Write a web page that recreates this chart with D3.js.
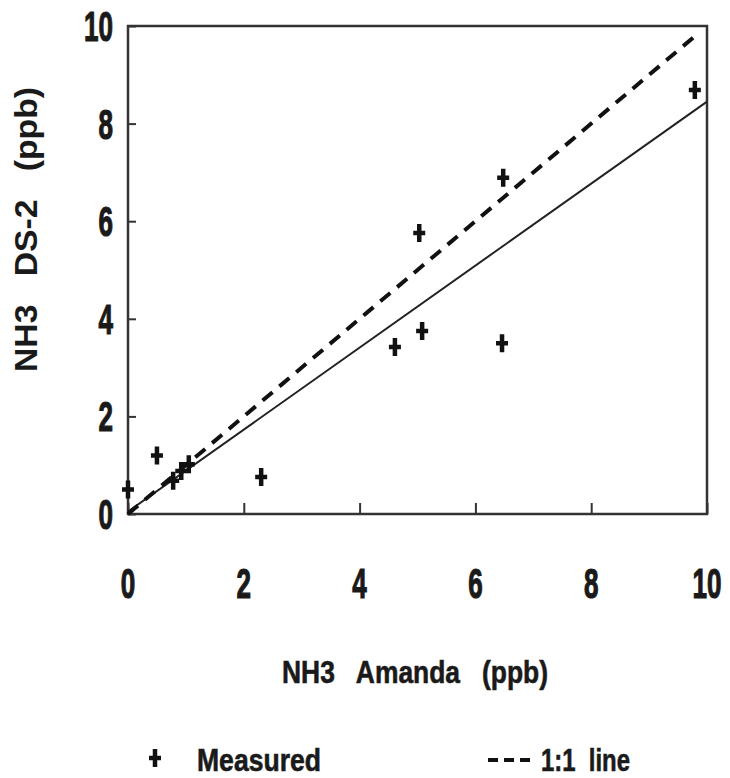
<!DOCTYPE html>
<html>
<head>
<meta charset="utf-8">
<script src="https://cdn.jsdelivr.net/npm/d3@7"></script>
<style>
body { margin: 0; background: #fff; }
svg text { fill: #1a1a1a; }
</style>
</head>
<body>
<div id="chart"></div>
<script>
var width = 730;
var height = 778;

// measured points (Amanda vs DS-2)
var amanda = [0, 0.5, 0.78, 0.92, 1.05, 2.3, 4.61, 5.08, 5.03, 6.46, 6.48, 9.79];
var ds2 = [0.5, 1.2, 0.68, 0.88, 1.02, 0.76, 3.42, 3.75, 5.76, 3.5, 6.89, 8.69];

// regression line and 1:1 line end points
var fitX = [0, 10];
var fitY = [0.05, 8.45];
var oneX = [0, 9.78];
var oneY = [0, 9.78];

var xTicks = [0, 2, 4, 6, 8, 10];
var yTicks = [0, 2, 4, 6, 8, 10];
var legendLabels = ["Measured", "1:1  line"];

var margin = {left: 128, top: 26, right: 23, bottom: 264};
var w = width - margin.left - margin.right;
var h = height - margin.top - margin.bottom;

var font = "'Liberation Sans', Arial, sans-serif";

var svg = d3.select("#chart")
    .append("svg")
    .attr("width", width)
    .attr("height", height);

var g = svg.append("g")
    .attr("transform", "translate(" + margin.left + "," + margin.top + ")");

var x = d3.scaleLinear().domain([0, 10]).range([0, w]);
var y = d3.scaleLinear().domain([0, 10]).range([h, 0]);

// frame
g.append("rect")
    .attr("width", w)
    .attr("height", h)
    .attr("fill", "none")
    .attr("stroke", "#333")
    .attr("stroke-width", 2.5);

// inward ticks on bottom and left
var xAxis = g.append("g")
    .attr("transform", "translate(0," + h + ")")
    .call(d3.axisBottom(x).tickValues(xTicks).tickSize(-11).tickFormat(""));
var yAxis = g.append("g")
    .call(d3.axisLeft(y).tickValues(yTicks).tickSize(-8).tickFormat(""));
[xAxis, yAxis].forEach(function(a){
    a.select(".domain").remove();
    a.selectAll("line").attr("stroke", "#333").attr("stroke-width", 2);
});

// tick labels, squeezed to look condensed
g.selectAll(".xlab")
    .data(xTicks)
    .enter()
    .append("text")
    .attr("transform", function(d){ return "translate(" + x(d) + "," + (h + 84) + ") scale(0.62,1)"; })
    .attr("text-anchor", "middle")
    .attr("font-family", font)
    .attr("font-weight", "bold")
    .attr("font-size", "42px")
    .attr("stroke", "#1a1a1a")
    .attr("stroke-width", 1.2)
    .text(function(d){ return d; });

g.selectAll(".ylab")
    .data(yTicks)
    .enter()
    .append("text")
    .attr("transform", function(d){ return "translate(-15," + (y(d) + 15) + ") scale(0.62,1)"; })
    .attr("text-anchor", "end")
    .attr("font-family", font)
    .attr("font-weight", "bold")
    .attr("font-size", "42px")
    .attr("stroke", "#1a1a1a")
    .attr("stroke-width", 1.2)
    .text(function(d){ return d; });

// lines
var line = d3.line()
    .x(function(d){ return x(d[0]); })
    .y(function(d){ return y(d[1]); });

g.append("path")
    .attr("d", line(d3.zip(fitX, fitY)))
    .attr("fill", "none")
    .attr("stroke", "#222")
    .attr("stroke-width", 2);

g.append("path")
    .attr("d", line(d3.zip(oneX, oneY)))
    .attr("fill", "none")
    .attr("stroke", "#111")
    .attr("stroke-width", 4)
    .attr("stroke-dasharray", "13,9");

// plus markers
var plus = "M-6,0H6M0,-9V9";
g.selectAll(".pt")
    .data(d3.zip(amanda, ds2))
    .enter()
    .append("path")
    .attr("transform", function(d){ return "translate(" + x(d[0]) + "," + y(d[1]) + ")"; })
    .attr("d", plus)
    .attr("stroke", "#111")
    .attr("stroke-width", 4.5);

// axis titles
svg.append("text")
    .attr("x", 282)
    .attr("y", 683)
    .attr("font-family", font)
    .attr("font-weight", "bold")
    .attr("font-size", "32px")
    .attr("stroke", "#1a1a1a")
    .attr("stroke-width", 0.6)
    .attr("textLength", 266)
    .attr("lengthAdjust", "spacingAndGlyphs")
    .style("white-space", "pre")
    .text("NH3   Amanda   (ppb)");

svg.append("text")
    .attr("transform", "translate(37,372) rotate(-90)")
    .attr("font-family", font)
    .attr("font-weight", "bold")
    .attr("font-size", "32px")
    .attr("textLength", 285)
    .attr("lengthAdjust", "spacingAndGlyphs")
    .style("white-space", "pre")
    .text("NH3   DS-2   (ppb)");

// legend
svg.append("path")
    .attr("transform", "translate(155,758)")
    .attr("d", plus)
    .attr("stroke", "#111")
    .attr("stroke-width", 4.5);

svg.append("line")
    .attr("x1", 488).attr("x2", 530)
    .attr("y1", 760).attr("y2", 760)
    .attr("stroke", "#111")
    .attr("stroke-width", 4)
    .attr("stroke-dasharray", "10,6");

var legendX = [197, 541];
var legendLen = [124, 89];
svg.selectAll(".leg")
    .data(legendLabels)
    .enter()
    .append("text")
    .attr("x", function(d, i){ return legendX[i]; })
    .attr("y", 771)
    .attr("font-family", font)
    .attr("font-weight", "bold")
    .attr("font-size", "31px")
    .attr("stroke", "#1a1a1a")
    .attr("stroke-width", 0.6)
    .attr("textLength", function(d, i){ return legendLen[i]; })
    .attr("lengthAdjust", "spacingAndGlyphs")
    .style("white-space", "pre")
    .text(function(d){ return d; });
</script>
</body>
</html>
